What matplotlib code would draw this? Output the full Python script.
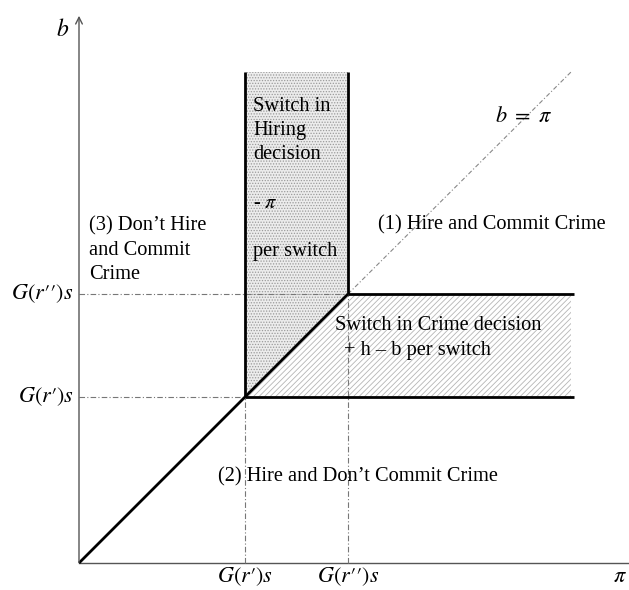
import matplotlib
matplotlib.use("Agg")
import matplotlib.pyplot as plt
from matplotlib.patches import Polygon

plt.rcParams['font.family'] = ['Liberation Serif', 'DejaVu Serif']
plt.rcParams['mathtext.fontset'] = 'stix'
plt.rcParams['hatch.linewidth'] = 0.6

# diagram values (abstract units)
g_low = 166      # G(r')s
g_high = 269     # G(r'')s
top = 491        # top of hiring-switch band
right = 492      # right end of crime-switch band
axis_max_x = 555
axis_max_y = 550

tick_labels_x = [r"$G(r\prime)s$", r"$G(r\prime\prime)s$"]
tick_labels_y = [r"$G(r\prime)s$", r"$G(r\prime\prime)s$"]

fig = plt.figure(figsize=(6.29, 5.90), dpi=100)
ax = fig.add_axes([0, 0, 1, 1])
ax.set_xlim(-79, 550)
ax.set_ylim(-27, 563)
ax.axis('off')

FS = 14.7
LS = 1.37

# axes
ax.plot([0, axis_max_x], [0, 0], color='#555555', lw=1.0)
ax.annotate('', xy=(0, axis_max_y), xytext=(0, -2),
            arrowprops=dict(arrowstyle='->', color='#555555', lw=1.0, mutation_scale=12))

# stippled region (switch in hiring)
stip = Polygon([(g_low, top), (g_high, top), (g_high, g_high), (g_low, g_low)],
               closed=True, facecolor='#ececec', edgecolor='#9a9a9a', hatch='......', lw=0)
ax.add_patch(stip)
# hatched region (switch in crime)
hat = Polygon([(g_low, g_low), (right, g_low), (right, g_high), (g_high, g_high)],
              closed=True, facecolor='white', edgecolor='#b5b5b5', hatch='//////', lw=0)
ax.add_patch(hat)

# dash-dot guides
dd = dict(color='#777777', lw=0.8, ls=(0, (5, 2, 1, 2)))
ax.plot([0, g_low], [g_low, g_low], **dd)
ax.plot([0, g_high], [g_high, g_high], **dd)
ax.plot([g_low, g_low], [0, g_low], **dd)
ax.plot([g_high, g_high], [0, g_high], **dd)
# b = pi dashed continuation
ax.plot([g_high, right], [g_high, top], color='#888888', lw=0.8, ls=(0, (4, 2, 1, 2)))

# thick boundaries
tk = dict(color='black', lw=2.0, solid_capstyle='butt')
ax.plot([0, g_high], [0, g_high], **tk)
ax.plot([g_low, g_low], [g_low, top], **tk)
ax.plot([g_high, g_high], [g_high, top], **tk)
ax.plot([g_low, right + 3], [g_low, g_low], **tk)
ax.plot([g_high, right + 3], [g_high, g_high], **tk)

# texts
ax.text(-16, 533, r'$b$', fontsize=17, ha='center', va='center')
ax.text(445, 446, r'$b\ =\ \pi$', fontsize=16, ha='center', va='center')
ax.text(299, 338, '(1) Hire and Commit Crime', fontsize=FS, ha='left', va='center')
ax.text(10, 313, "(3) Don\u2019t Hire\nand Commit\nCrime", fontsize=FS, ha='left',
        va='center', linespacing=LS)
ax.text(174, 384, "Switch in\nHiring\ndecision\n\n- $\\pi$\n\nper switch", fontsize=FS,
        ha='left', va='center', linespacing=LS)
ax.text(256, 238, "Switch in Crime decision", fontsize=FS, ha='left', va='center')
ax.text(265, 213, "+ h \u2013 b per switch", fontsize=FS, ha='left', va='center')
ax.text(139, 86, "(2) Hire and Don\u2019t Commit Crime", fontsize=FS, ha='left', va='center')

# tick labels
ax.text(g_low, -14, tick_labels_x[0], fontsize=16, ha='center', va='center')
ax.text(g_high, -14, tick_labels_x[1], fontsize=16, ha='center', va='center')
ax.text(541, -15, r'$\pi$', fontsize=16, ha='center', va='center')
ax.text(-5, g_low, tick_labels_y[0], fontsize=16, ha='right', va='center')
ax.text(-5, g_high, tick_labels_y[1], fontsize=16, ha='right', va='center')

fig.savefig('out.png', dpi=100)
